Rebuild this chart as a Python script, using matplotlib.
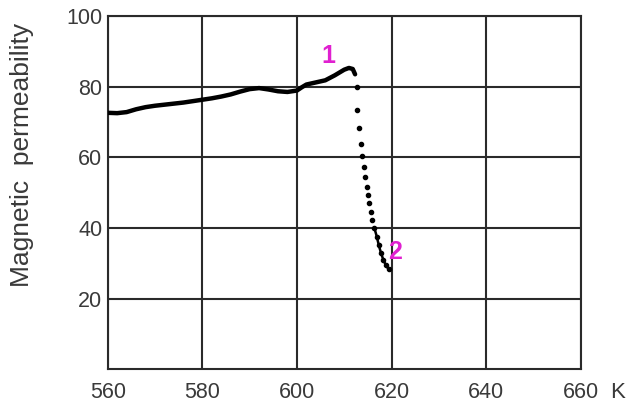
import numpy as np
import matplotlib
matplotlib.use('Agg')
import matplotlib.pyplot as plt

plt.rcParams['font.family'] = ['Liberation Sans', 'DejaVu Sans']

# continuous part of the curve (temperature K, permeability)
temp_line = [560, 562, 564, 566, 568, 570, 572, 574, 576, 578, 580, 582, 584,
             586, 588, 590, 592, 594, 596, 598, 600, 601, 602, 604, 606, 608,
             610, 611, 611.8, 612.3]
perm_line = [72.6, 72.5, 72.8, 73.6, 74.2, 74.6, 74.9, 75.2, 75.5, 75.9, 76.3,
             76.7, 77.2, 77.8, 78.6, 79.3, 79.6, 79.2, 78.7, 78.5, 78.9, 79.8,
             80.6, 81.2, 81.8, 83.2, 84.8, 85.3, 85.0, 83.5]

# dotted drop after the peak
temp_dots = [612.6, 612.8, 613.2, 613.6, 613.8, 614.2, 614.5, 614.8, 615.0,
             615.2, 615.6, 615.9, 616.4, 616.9, 617.3, 617.8, 618.3, 618.8, 619.4]
perm_dots = [80.0, 73.4, 68.2, 63.9, 60.3, 57.3, 54.5, 51.7, 49.3, 47.0, 44.6,
             42.2, 39.9, 37.5, 35.2, 32.8, 30.9, 29.5, 28.3]

xticks = [560, 580, 600, 620, 640, 660]
yticks = [20, 40, 60, 80, 100]

# point labels
marks = ['1', '2']
mark_x = [606.6, 620.7]
mark_y = [88.6, 33.3]

grid_col = '#2a2a2a'
text_col = '#3a3a3a'
magenta = '#e020d0'

fig = plt.figure(figsize=(6.31, 4.05), dpi=100)
ax = fig.add_axes([0.1707, 0.0881, 0.7496, 0.8724])

ax.set_xlim(560, 660)
ax.set_ylim(0, 100)
ax.set_xticks(xticks)
ax.set_yticks(yticks)
ax.grid(True, color=grid_col, linewidth=1.5)
for sp in ax.spines.values():
    sp.set_color(grid_col)
    sp.set_linewidth(1.5)
ax.tick_params(length=0, labelsize=15.5, labelcolor=text_col)
ax.tick_params(axis='x', pad=9)
ax.tick_params(axis='y', pad=4)

ax.plot(temp_line, perm_line, color='black', linewidth=3.2,
        solid_capstyle='round', zorder=3)
ax.plot(temp_dots, perm_dots, 'o', color='black', markersize=3, zorder=3)
# lower dots run together into a line
ax.plot(temp_dots[-7:], perm_dots[-7:], color='black', linewidth=1.8, zorder=3)

for m, mx, my in zip(marks, mark_x, mark_y):
    ax.text(mx, my, m, color=magenta, fontsize=18, fontweight='bold',
            ha='center', va='center', zorder=4)

ax.annotate('K', xy=(1, 0), xycoords='axes fraction', xytext=(21, -9),
            textcoords='offset points', ha='left', va='top',
            fontsize=16, color=text_col)

fig.text(22 / 631, 1 - 155 / 405, 'Magnetic  permeability', rotation=90,
         ha='center', va='center', fontsize=19, color=text_col)

fig.savefig('out.png', dpi=100)
